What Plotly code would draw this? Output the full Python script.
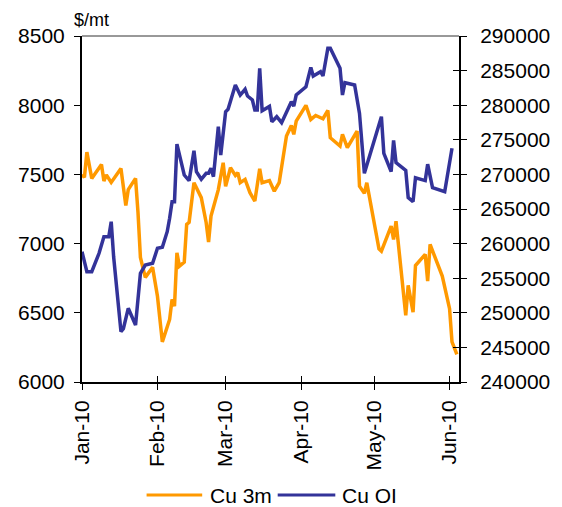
import plotly.graph_objects as go

# ---- data ----
cu3m_dates = [
    "2010-01-01", "2010-01-02", "2010-01-03", "2010-01-05", "2010-01-09", "2010-01-10",
    "2010-01-11", "2010-01-13", "2010-01-17", "2010-01-19", "2010-01-20", "2010-01-23",
    "2010-01-24", "2010-01-25", "2010-01-27", "2010-01-30", "2010-02-01", "2010-02-03",
    "2010-02-06", "2010-02-07", "2010-02-08", "2010-02-09", "2010-02-10", "2010-02-12",
    "2010-02-13", "2010-02-14", "2010-02-16", "2010-02-19", "2010-02-21", "2010-02-22",
    "2010-02-23", "2010-02-26", "2010-02-28", "2010-03-01", "2010-03-03", "2010-03-05",
    "2010-03-06", "2010-03-07", "2010-03-09", "2010-03-11", "2010-03-13", "2010-03-15",
    "2010-03-16", "2010-03-19", "2010-03-21", "2010-03-23", "2010-03-26", "2010-03-28",
    "2010-03-29", "2010-03-30", "2010-04-03", "2010-04-05", "2010-04-07", "2010-04-10",
    "2010-04-12", "2010-04-13", "2010-04-17", "2010-04-18", "2010-04-20", "2010-04-24",
    "2010-04-25", "2010-04-27", "2010-04-28", "2010-05-03", "2010-05-04", "2010-05-08",
    "2010-05-09", "2010-05-10", "2010-05-14", "2010-05-15", "2010-05-17", "2010-05-18",
    "2010-05-22", "2010-05-23", "2010-05-24", "2010-05-29", "2010-06-01", "2010-06-02",
    "2010-06-04",
]
cu3m_values = [
    7500, 7478, 7661, 7471, 7572, 7452,
    7497, 7442, 7543, 7276, 7390, 7471,
    7225, 6900, 6756, 6828, 6619, 6290,
    6452, 6597, 6548, 6934, 6837, 6866,
    7139, 7153, 7440, 7332, 7153, 7011,
    7199, 7390, 7584, 7414, 7548, 7493,
    7512, 7440, 7464, 7368, 7307, 7540,
    7440, 7455, 7379, 7440, 7777, 7854,
    7789, 7885, 7999, 7897, 7926, 7902,
    7962, 7765, 7705, 7789, 7693, 7813,
    7415, 7363, 7440, 6962, 6945, 7126,
    7030, 7162, 6481, 6698, 6505, 6842,
    6922, 6729, 6994, 6765, 6530, 6290,
    6200,
]

cuoi_dates = [
    "2010-01-01", "2010-01-03", "2010-01-05", "2010-01-08", "2010-01-10", "2010-01-12",
    "2010-01-13", "2010-01-14", "2010-01-17", "2010-01-18", "2010-01-20", "2010-01-23",
    "2010-01-25", "2010-01-27", "2010-01-30", "2010-02-01", "2010-02-03", "2010-02-05",
    "2010-02-06", "2010-02-07", "2010-02-08", "2010-02-09", "2010-02-12", "2010-02-14",
    "2010-02-16", "2010-02-17", "2010-02-19", "2010-02-21", "2010-02-22", "2010-02-23",
    "2010-02-24", "2010-02-26", "2010-02-27", "2010-03-01", "2010-03-02", "2010-03-05",
    "2010-03-07", "2010-03-09", "2010-03-10", "2010-03-12", "2010-03-13", "2010-03-14",
    "2010-03-15", "2010-03-16", "2010-03-19", "2010-03-20", "2010-03-22", "2010-03-24",
    "2010-03-28", "2010-03-29", "2010-03-30", "2010-04-03", "2010-04-05", "2010-04-06",
    "2010-04-09", "2010-04-10", "2010-04-12", "2010-04-13", "2010-04-17", "2010-04-18",
    "2010-04-19", "2010-04-23", "2010-04-25", "2010-04-27", "2010-05-04", "2010-05-05",
    "2010-05-08", "2010-05-09", "2010-05-10", "2010-05-14", "2010-05-15", "2010-05-17",
    "2010-05-18", "2010-05-22", "2010-05-23", "2010-05-25", "2010-05-30", "2010-06-02",
]
cuoi_values = [
    258830, 255940, 255940, 258600, 261000, 261000,
    263160, 258100, 247270, 247700, 250650, 248240,
    255710, 256900, 257150, 259320, 259460, 261720,
    263650, 266060, 266060, 274370, 269910, 269090,
    273420, 270390, 269290, 270160, 270160, 270880,
    269670, 276890, 272800, 279060, 279400, 282920,
    281470, 282300, 281330, 280750, 279300, 279300,
    285330, 279200, 279830, 277610, 278340, 277470,
    280500, 279880, 281470, 282670, 285470, 284220,
    284840, 284220, 288220, 288220, 285330, 281470,
    283250, 282920, 278820, 270160, 278340, 273050,
    270390, 274920, 271720, 270580, 266660, 266060,
    269500, 269100, 271480, 268100, 267500, 273770,
]

left_range = [6000, 8500]
right_range = [240000, 290000]
x_range = ["2010-01-01", "2010-06-04 21:00"]
series_names = ["Cu 3m", "Cu OI"]
series_colors = ["#FF9900", "#333399"]
unit_label = "$/mt"

FONT = "Liberation Sans, Arial, sans-serif"
TICKFONT = dict(family=FONT, size=21, color="black")

fig = go.Figure()
fig.add_trace(go.Scatter(x=cu3m_dates, y=cu3m_values, mode="lines", name=series_names[0],
                         line=dict(color=series_colors[0], width=3.5), yaxis="y", xaxis="x"))
fig.add_trace(go.Scatter(x=cuoi_dates, y=cuoi_values, mode="lines", name=series_names[1],
                         line=dict(color=series_colors[1], width=3.5), yaxis="y2", xaxis="x"))
# empty helper traces so the tick-only overlay axes are rendered
fig.add_trace(go.Scatter(x=[], y=[], xaxis="x2", yaxis="y", showlegend=False, hoverinfo="skip"))
fig.add_trace(go.Scatter(x=[], y=[], xaxis="x", yaxis="y3", showlegend=False, hoverinfo="skip"))

fig.update_layout(
    width=562, height=507,
    margin=dict(l=82, r=100, t=36, b=125, pad=0),
    paper_bgcolor="white", plot_bgcolor="white",
    showlegend=False,
    font=dict(family=FONT, size=21, color="black"),
    xaxis=dict(type="date", range=x_range, tick0="2010-01-01", dtick="M1",
               tickformat="%b-%y", tickangle=-90, ticks="outside", ticklen=6,
               tickwidth=1, tickcolor="black", showline=True, linecolor="black",
               linewidth=2, showgrid=False, zeroline=False, tickfont=TICKFONT,
               ticklabelstandoff=2),
    xaxis2=dict(type="date", range=x_range, tick0="2010-01-01", dtick="M1",
                overlaying="x", anchor="y", side="bottom", ticks="inside", ticklen=6,
                tickwidth=1, tickcolor="black", showticklabels=False, showline=False,
                showgrid=False, zeroline=False),
    yaxis=dict(range=left_range, dtick=500, ticks="outside", ticklen=6, tickwidth=1,
               tickcolor="black", showline=True, linecolor="black", linewidth=2,
               showgrid=False, zeroline=False, tickfont=TICKFONT, ticklabelstandoff=5),
    yaxis2=dict(range=right_range, dtick=5000, overlaying="y", side="right", anchor="x",
                ticks="outside", ticklen=6, tickwidth=1, tickcolor="black",
                showline=True, linecolor="black", linewidth=2, showgrid=False,
                zeroline=False, tickformat="d", tickfont=TICKFONT, ticklabelstandoff=9),
    yaxis3=dict(range=right_range, dtick=5000, overlaying="y", side="right", anchor="x",
                ticks="inside", ticklen=6, tickwidth=1, tickcolor="black",
                showticklabels=False, showline=False, showgrid=False, zeroline=False),
)

# top frame line
fig.add_shape(type="line", xref="paper", yref="paper", x0=0, x1=1, y0=1, y1=1,
              line=dict(color="#333333", width=1))

# unit label
fig.add_annotation(text=unit_label, xref="paper", yref="paper", x=-0.026, y=1.046,
                   xanchor="left", yanchor="middle", showarrow=False,
                   font=dict(family=FONT, size=18, color="black"))

# manual legend (bottom, centred)
leg_y = -0.3266
leg_items = [(0.1713, 0.3188, 0.3347), (0.5191, 0.6719, 0.6851)]
for (x0, x1, xt), name, col in zip(leg_items, series_names, series_colors):
    fig.add_shape(type="line", xref="paper", yref="paper", x0=x0, x1=x1, y0=leg_y, y1=leg_y,
                  line=dict(color=col, width=3))
    fig.add_annotation(text=name, xref="paper", yref="paper", x=xt, y=leg_y,
                       xanchor="left", yanchor="middle", showarrow=False,
                       font=dict(family=FONT, size=21, color="black"))

fig.write_html("out.html")
